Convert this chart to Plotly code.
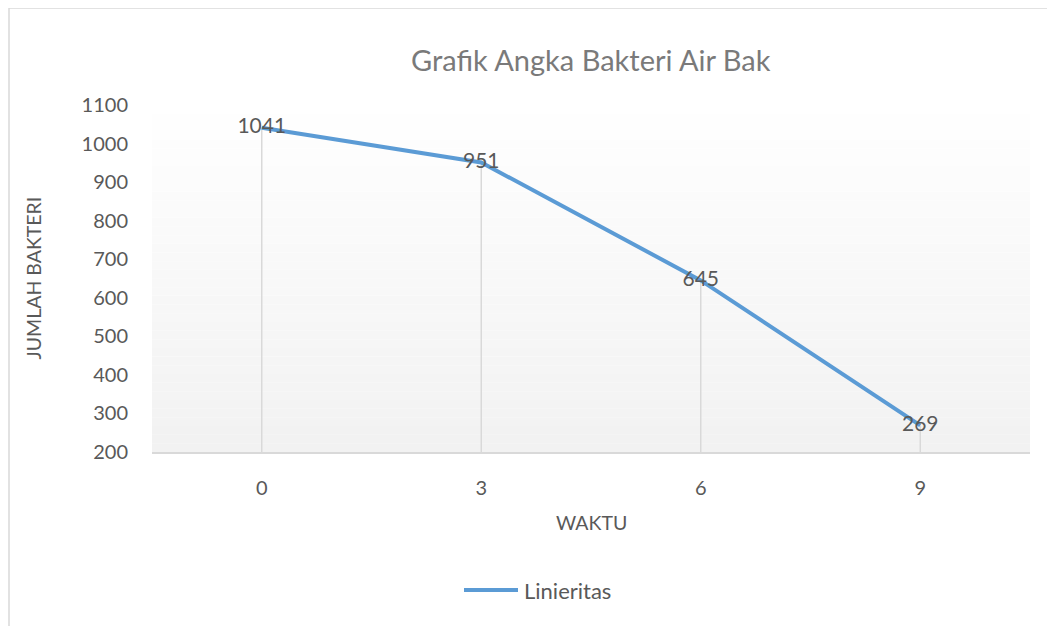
import plotly.graph_objects as go

# data
waktu = ["0", "3", "6", "9"]
jumlah_bakteri = [1041, 951, 645, 269]
y_ticks = [200, 300, 400, 500, 600, 700, 800, 900, 1000, 1100]
series_name = "Linieritas"

FONT = "Lato"
TXT = "#595959"
LINE = "#5b9bd5"

# page body has an 8px margin, so the figure is laid out 8px smaller
W, H = 1047, 618
ML, MT = 144, 97
PW, PH = 878, 347


def px_x(x):
    return (x - ML) / PW


def px_y(y):
    return 1 - (y - MT) / PH


fig = go.Figure()

# drop lines from each point down to the axis
drop_x, drop_y = [], []
for w, v in zip(waktu, jumlah_bakteri):
    drop_x += [w, w, None]
    drop_y += [y_ticks[0], v, None]
fig.add_trace(go.Scatter(
    x=drop_x, y=drop_y, mode="lines",
    line=dict(color="#d9d9d9", width=1.5),
    hoverinfo="skip", showlegend=False
))

# main series with centred data labels
fig.add_trace(go.Scatter(
    x=waktu, y=jumlah_bakteri, mode="lines+text",
    name=series_name, showlegend=False,
    line=dict(color=LINE, width=4),
    text=[str(v) for v in jumlah_bakteri],
    textposition="middle center",
    textfont=dict(family=FONT, size=21, color=TXT),
))

# vertical gradient behind the plot area (white at top, light grey at bottom)
shapes = []
n = 40
for i in range(n):
    t = i / (n - 1)
    c = int(242 + (255 - 242) * t)
    shapes.append(dict(
        type="rect", xref="x domain", yref="y domain",
        x0=0, x1=1, y0=i / n, y1=(i + 1) / n,
        fillcolor=f"rgb({c},{c},{c})", line=dict(width=0), layer="below"
    ))

# chart area border
shapes.append(dict(
    type="rect", xref="paper", yref="paper",
    x0=px_x(1), x1=1.2, y0=-1, y1=px_y(0),
    line=dict(color="#d9d9d9", width=1.5), fillcolor="rgba(0,0,0,0)"
))

# legend drawn by hand so the sample line matches the original length
shapes.append(dict(
    type="line", xref="paper", yref="paper",
    x0=px_x(456), x1=px_x(510), y0=px_y(582), y1=px_y(582),
    line=dict(color=LINE, width=4)
))

fig.update_layout(
    width=W, height=H,
    margin=dict(l=ML, r=W - ML - PW, t=MT, b=H - MT - PH),
    paper_bgcolor="white", plot_bgcolor="rgba(0,0,0,0)",
    font=dict(family=FONT, size=20, color=TXT),
    shapes=shapes,
    showlegend=False,
    annotations=[
        dict(text="Grafik Angka Bakteri Air Bak", xref="x domain", yref="paper",
             x=0.5, y=px_y(52), showarrow=False,
             font=dict(family=FONT, size=29, color="#7a7a7a"), yanchor="middle"),
        dict(text="JUMLAH BAKTERI", xref="paper", yref="y domain",
             x=px_x(25), y=0.5, textangle=-90, showarrow=False,
             font=dict(family=FONT, size=19.5, color=TXT), xanchor="center", yanchor="middle"),
        dict(text="WAKTU", xref="x domain", yref="paper",
             x=0.5, y=px_y(514), showarrow=False,
             font=dict(family=FONT, size=19.5, color=TXT), yanchor="middle"),
        dict(text=series_name, xref="paper", yref="paper",
             x=px_x(514), y=px_y(582), showarrow=False, xanchor="left", yanchor="middle",
             font=dict(family=FONT, size=22, color=TXT)),
    ],
)

fig.update_xaxes(
    type="category", range=[-0.5, 3.5],
    showgrid=False, zeroline=False,
    showline=True, linecolor="#d9d9d9", linewidth=2,
    ticks="", ticklabelstandoff=17,
    tickfont=dict(family=FONT, size=20, color=TXT),
)
fig.update_yaxes(
    range=[200, 1100], tickvals=y_ticks,
    showgrid=False, zeroline=False, showline=False,
    ticks="", ticklabelstandoff=23,
    tickfont=dict(family=FONT, size=20, color=TXT),
)

fig.write_html("out.html")
